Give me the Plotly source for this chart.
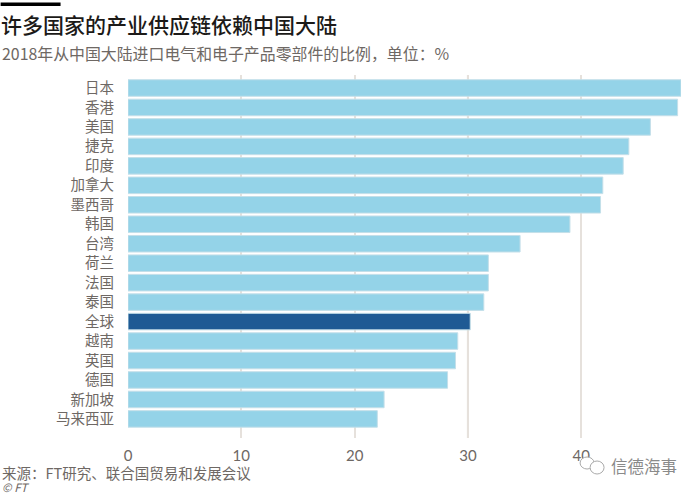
import plotly.graph_objects as go

categories = ["日本","香港","美国","捷克","印度","加拿大","墨西哥","韩国","台湾","荷兰","法国","泰国","全球","越南","英国","德国","新加坡","马来西亚"]
values = [48.8,48.5,46.1,44.2,43.7,41.9,41.7,39.0,34.6,31.8,31.8,31.4,30.2,29.1,28.9,28.2,22.6,22.0]
bar_colors = ["#1f5a94" if c == "全球" else "#94d3e8" for c in categories]
x_ticks = [0,10,20,30,40]
FONT = "Noto Sans CJK SC"
W, H = 700, 496
L, T, PW, PH = 127.5, 75, 553.5, 363

def px(v): return (v-L)/PW
def py(v): return 1-(v-T)/PH

fig = go.Figure(go.Bar(
    y=categories, x=values, orientation="h", width=0.85,
    marker=dict(color=bar_colors, line=dict(color="#c4dfe9", width=1)),
    hoverinfo="skip",
))
def circle(x0, y0, x1, y1):
    return dict(type="circle", xref="paper", yref="paper", x0=px(x0), x1=px(x1), y0=py(y0), y1=py(y1),
                fillcolor="white", line=dict(color="#aaaaaa", width=1), layer="above")
fig.update_layout(
    width=W, height=H, autosize=False, showlegend=False,
    paper_bgcolor="white", plot_bgcolor="white",
    margin=dict(l=L, r=W-L-PW, t=T, b=H-T-PH),
    font=dict(family=FONT, color="#6e6864"),
    xaxis=dict(range=[0, 48.8], tickvals=x_ticks, showgrid=True, gridcolor="#e6e1dc", gridwidth=2,
               zeroline=False, showline=False, ticks="", tickfont=dict(size=15, color="#6e6864", family="Lato"), ticklabelstandoff=7),
    yaxis=dict(range=[17.98, -0.668], type="category", showgrid=False, zeroline=False, showline=False,
               ticks="", tickfont=dict(size=14.5, color="#6e6864", family=FONT), ticklabelstandoff=13),
    shapes=[dict(type="line", xref="x", yref="paper", x0=30, x1=30, y0=0, y1=1,
                 line=dict(color="#b5afaa", width=2), layer="below"),
            dict(type="rect", xref="paper", yref="paper", x0=px(0), x1=px(60),
                 y0=py(6), y1=py(2.5), fillcolor="#000000", line_width=0),
            circle(580, 457, 594, 469), circle(590, 461, 604, 474)],
)
def note(text, x, y, size, color, weight=400, family=FONT):
    fig.add_annotation(text=text, xref="paper", yref="paper", x=px(x), y=py(y),
                       xanchor="left", yanchor="middle", showarrow=False, xshift=-2,
                       font=dict(size=size, color=color, family=family, weight=weight))
note("许多国家的产业供应链依赖中国大陆", 0, 24, 21, "#1c1a18", weight=500)
note("2018年从中国大陆进口电气和电子产品零部件的比例，单位：%", 1, 53, 15.9, "#6e6864")
note("来源：FT研究、联合国贸易和发展会议", 1, 472, 14.5, "#6e6864")
note("<i>© FT</i>", 1, 487, 11.5, "#6e6864")
note("信德海事", 611, 466, 16.5, "#8a8a8a")
fig.write_html("out.html", config={"displayModeBar": False},
               post_script="document.body.style.margin='0';document.body.style.overflow='hidden';")
